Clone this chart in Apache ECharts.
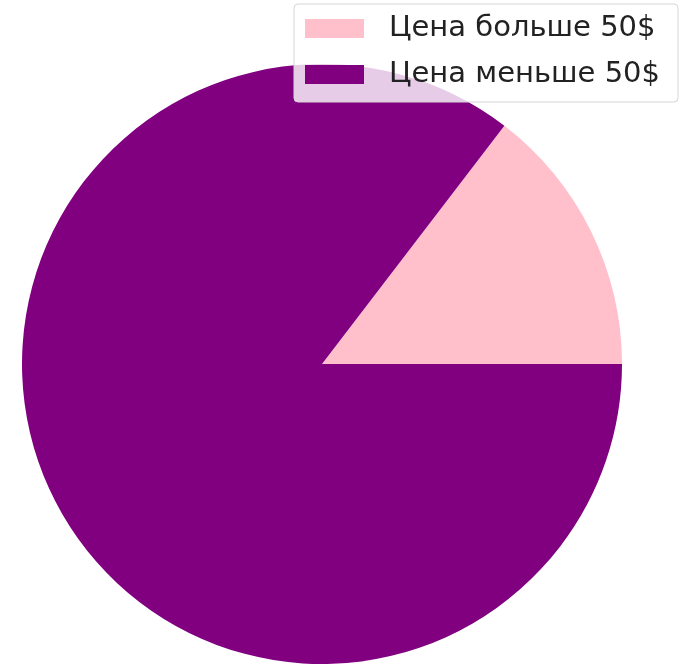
<!DOCTYPE html>
<html>
<head>
<meta charset="utf-8">
<script src="https://cdn.jsdelivr.net/npm/echarts@6/dist/echarts.min.js"></script>
<style>html,body{margin:0;padding:0;background:#fff;}#c{width:684px;height:665px;}</style>
</head>
<body>
<div id="c"></div>
<script>
const categories = ['Цена больше 50$', 'Цена меньше 50$'];
const values = [14.6, 85.4];
const colors = ['#FFC0CB', '#800080'];

const chart = echarts.init(document.getElementById('c'), null, {renderer: 'canvas'});
chart.setOption({
  animation: false,
  backgroundColor: '#ffffff',
  legend: {
    orient: 'vertical',
    left: 294,
    top: 4,
    padding: [9, 18, 12, 11],
    itemGap: 15,
    itemWidth: 59,
    itemHeight: 19,
    icon: 'rect',
    backgroundColor: 'rgba(255,255,255,0.8)',
    borderColor: '#d6d6d6',
    borderWidth: 1,
    borderRadius: 4,
    textStyle: {
      fontFamily: 'DejaVu Sans',
      fontSize: 29,
      lineHeight: 31,
      color: '#222',
      padding: [0, 0, 0, 20]
    },
    data: categories
  },
  series: [{
    type: 'pie',
    center: [322, 364],
    radius: 300,
    startAngle: 0,
    clockwise: false,
    label: {show: false},
    labelLine: {show: false},
    silent: true,
    z: 1,
    data: categories.map((c, i) => ({name: c, value: values[i], itemStyle: {color: colors[i]}}))
  }]
});
</script>
</body>
</html>
